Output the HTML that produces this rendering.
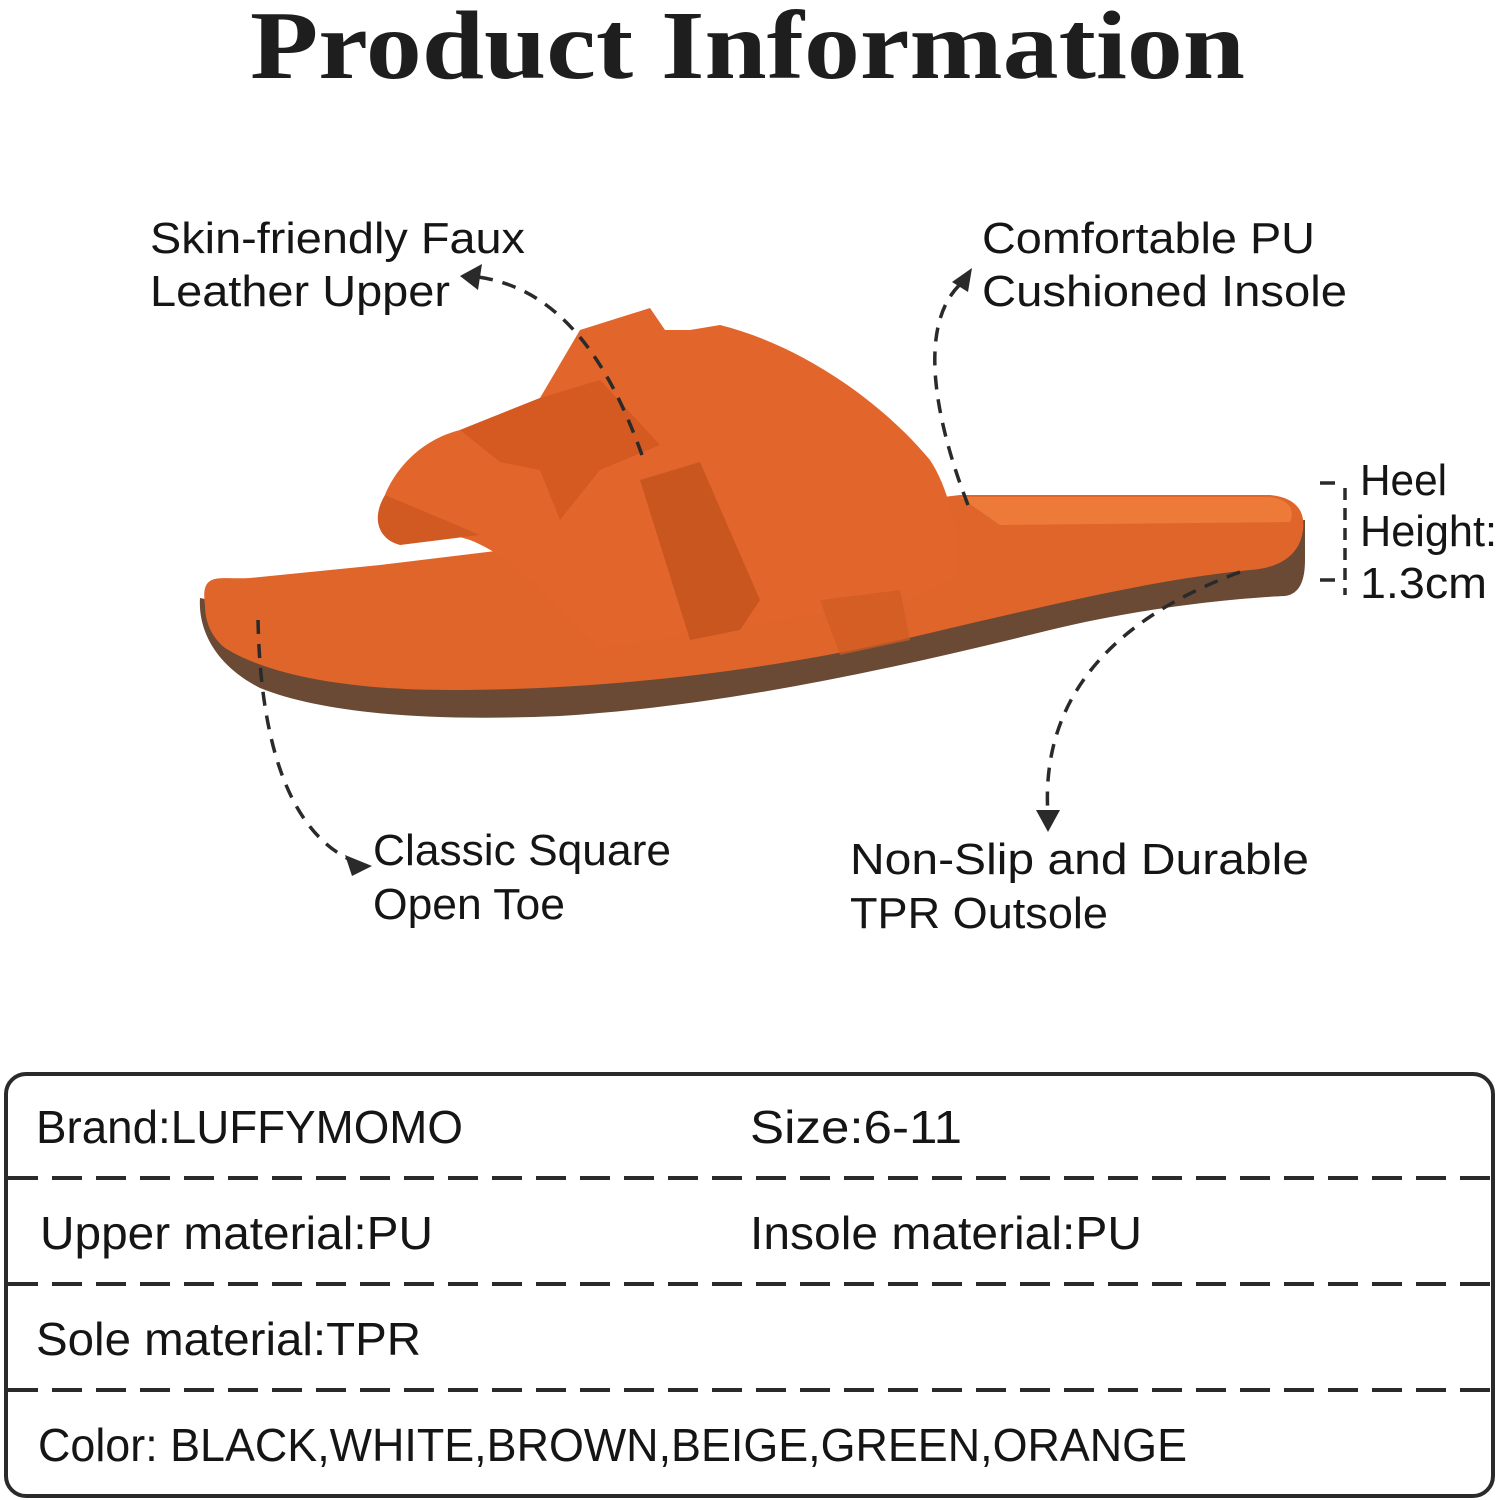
<!DOCTYPE html>
<html><head><meta charset="utf-8"><style>
html,body{margin:0;padding:0;background:#fff;}
svg{display:block;}
text{font-family:"Liberation Sans",sans-serif;fill:#151515;}
</style></head><body>
<svg width="1500" height="1500" viewBox="0 0 1500 1500" xmlns="http://www.w3.org/2000/svg">
<defs>
<marker id="ah" markerWidth="8" markerHeight="8" refX="4" refY="4" orient="auto" markerUnits="userSpaceOnUse" viewBox="0 0 8 8">
</marker>
</defs>
<text x="250" y="78" textLength="995" lengthAdjust="spacingAndGlyphs" style="font-family:'Liberation Serif',serif;font-weight:bold;font-size:98px;fill:#1e1e1e">Product Information</text>

<!-- sandal -->
<!-- brown sole -->
<path d="M200,598 C198,630 215,665 260,688 C320,712 420,722 560,716 C720,706 880,672 1050,630 C1150,606 1240,598 1285,596 C1300,594 1305,580 1305,560 L1305,520 C1290,520 1260,540 1230,545 L400,640 Z" fill="#6a4a35"/>
<!-- orange midsole -->
<path d="M205,605 C200,570 220,580 250,578 L380,565 L960,495 L1270,495 C1300,498 1305,515 1303,530 C1300,555 1280,568 1250,570 C1150,580 1050,605 900,640 C760,672 600,690 450,690 C330,690 260,670 225,648 C210,636 205,620 205,605 Z" fill="#e0652a"/>
<path d="M960,497 L1270,497 C1290,500 1295,510 1290,522 L1000,525 Z" fill="#ee7a3a"/>
<!-- straps -->
<path d="M385,495 C395,470 420,440 460,430 L540,398 L580,330 L650,308 L665,330 L690,330 L720,325 C800,345 880,400 930,460 C950,490 960,540 958,575 L905,600 L810,615 L700,632 L600,648 C560,610 520,560 470,540 C430,528 400,520 385,495 Z" fill="#e2662b"/>
<path d="M460,430 L540,398 L600,380 L660,445 L600,470 L560,520 L540,470 L500,462 Z" fill="#d45a22"/>
<path d="M640,480 L700,462 L760,600 L740,630 L690,640 Z" fill="#c9561f"/>
<path d="M820,600 L900,590 L910,640 L840,655 Z" fill="#d05b22" opacity="0.7"/>
<path d="M385,495 C370,520 380,540 400,545 L480,535" fill="#d05a22"/>

<!-- connectors -->
<g fill="none" stroke="#2a2a2a" stroke-width="3.5" stroke-dasharray="14,10">
<path d="M642,455 C615,380 570,290 478,277"/>
<path d="M968,505 C935,420 915,320 965,280"/>
<path d="M258,620 C260,720 280,830 355,862"/>
<path d="M1240,572 C1110,620 1040,700 1048,815"/>
<path d="M1345,488 L1345,595" stroke-dasharray="12,8"/>
</g>
<g fill="none" stroke="#2a2a2a" stroke-width="3.5">
<path d="M1320,483 L1335,483 M1320,580 L1335,580"/>
</g>
<g fill="#2a2a2a">
<polygon points="460,276 482,264 478,290"/>
<polygon points="972,268 968,292 952,282"/>
<polygon points="372,866 345,855 352,876"/>
<polygon points="1048,832 1036,810 1060,810"/>
</g>

<g style="font-size:44px">
<text x="150" y="253" textLength="375" lengthAdjust="spacingAndGlyphs">Skin-friendly Faux</text>
<text x="150" y="306" textLength="300" lengthAdjust="spacingAndGlyphs">Leather Upper</text>
<text x="982" y="253" textLength="333" lengthAdjust="spacingAndGlyphs">Comfortable PU</text>
<text x="982" y="306" textLength="365" lengthAdjust="spacingAndGlyphs">Cushioned Insole</text>
<text x="1360" y="495" textLength="87" lengthAdjust="spacingAndGlyphs">Heel</text>
<text x="1360" y="546" textLength="137" lengthAdjust="spacingAndGlyphs">Height:</text>
<text x="1360" y="598" textLength="127" lengthAdjust="spacingAndGlyphs">1.3cm</text>
<text x="373" y="865" textLength="298" lengthAdjust="spacingAndGlyphs">Classic Square</text>
<text x="373" y="919" textLength="192" lengthAdjust="spacingAndGlyphs">Open Toe</text>
<text x="850" y="874" textLength="459" lengthAdjust="spacingAndGlyphs">Non-Slip and Durable</text>
<text x="850" y="928" textLength="258" lengthAdjust="spacingAndGlyphs">TPR Outsole</text>
</g>

<!-- table -->
<rect x="6" y="1074" width="1487" height="422" rx="20" ry="20" fill="none" stroke="#2a2a2a" stroke-width="4"/>
<g stroke="#2a2a2a" stroke-width="4" stroke-dasharray="30,14">
<line x1="8" y1="1178" x2="1492" y2="1178"/>
<line x1="8" y1="1284" x2="1492" y2="1284"/>
<line x1="8" y1="1390" x2="1492" y2="1390"/>
</g>
<g style="font-size:46px">
<text x="36" y="1143" textLength="427" lengthAdjust="spacingAndGlyphs">Brand:LUFFYMOMO</text>
<text x="750" y="1143" textLength="212" lengthAdjust="spacingAndGlyphs">Size:6-11</text>
<text x="40" y="1249" textLength="393" lengthAdjust="spacingAndGlyphs">Upper material:PU</text>
<text x="750" y="1249" textLength="392" lengthAdjust="spacingAndGlyphs">Insole material:PU</text>
<text x="36" y="1355" textLength="385" lengthAdjust="spacingAndGlyphs">Sole material:TPR</text>
<text x="38" y="1461" textLength="1149" lengthAdjust="spacingAndGlyphs">Color: BLACK,WHITE,BROWN,BEIGE,GREEN,ORANGE</text>
</g>
</svg>
</body></html>
